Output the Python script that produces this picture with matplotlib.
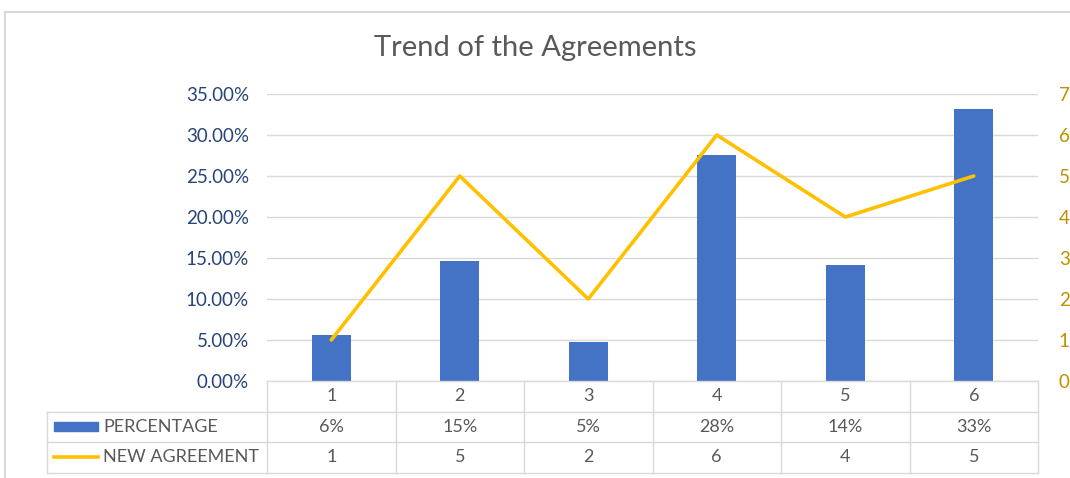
import numpy as np
import matplotlib
matplotlib.use("Agg")
import matplotlib.pyplot as plt
from matplotlib.ticker import PercentFormatter
from matplotlib.lines import Line2D
from matplotlib.patches import Rectangle

plt.rcParams['font.family'] = ['Lato', 'DejaVu Sans']

categories = ["1", "2", "3", "4", "5", "6"]
percentage = [0.056, 0.146, 0.048, 0.276, 0.141, 0.332]
percentage_labels = ["6%", "15%", "5%", "28%", "14%", "33%"]
new_agreement = [1, 5, 2, 6, 4, 5]

blue = "#4472C4"
gold = "#FFC000"
grid = "#D9D9D9"
txt = "#595959"
fs = 13

fig = plt.figure(figsize=(10.7, 4.78), dpi=100)
ax = fig.add_axes([267/1070, 1 - 381/478, 771/1070, 287/478])
ax2 = ax.twinx()

x = np.arange(len(categories))
ax.bar(x, percentage, width=0.3, color=blue, zorder=2)
ax2.plot(x, new_agreement, color=gold, lw=2.6, solid_capstyle='round', zorder=3)

ax.set_xlim(-0.5, len(categories) - 0.5)
ax.set_ylim(0, 0.35)
ax.set_yticks(np.arange(0, 0.351, 0.05))
ax.yaxis.set_major_formatter(PercentFormatter(1.0, decimals=2))
ax2.set_ylim(0, 7)
ax2.set_yticks(range(0, 8))

ax.grid(axis='y', color=grid, lw=1, zorder=0)
ax.set_axisbelow(True)
ax.set_xticks([])
for a in (ax, ax2):
    for s in a.spines.values():
        s.set_visible(False)
ax.tick_params(axis='y', length=0, pad=13, labelsize=13.5, labelcolor="#264478")
ax2.tick_params(axis='y', length=0, pad=15, labelsize=13.5, labelcolor="#BF9000")

fig.text(0.5, 1 - 48/478, "Trend of the Agreements", ha='center', va='center',
         fontsize=21, color=txt)

# data table under the axis
h = 30.5 / 287
left = (47 - 267) / 771
tr = ax.get_xaxis_transform()
ta = ax.transAxes

def hline(x0, x1, y):
    ax.add_line(Line2D([x0, x1], [y, y], transform=ta, color=grid, lw=1, clip_on=False))

def vline(x0, y0, y1):
    ax.add_line(Line2D([x0, x0], [y0, y1], transform=ta, color=grid, lw=1, clip_on=False))

hline(0, 1, 0)
hline(left, 1, -h)
hline(left, 1, -2 * h)
hline(left, 1, -3 * h)
vline(left, -h, -3 * h)
for i in range(len(categories) + 1):
    vline(i / len(categories), 0, -3 * h)

for i, c in enumerate(categories):
    ax.text(i, -0.5 * h, c, transform=tr, ha='center', va='center', fontsize=fs, color=txt)
    ax.text(i, -1.5 * h, percentage_labels[i], transform=tr, ha='center', va='center',
            fontsize=fs, color=txt)
    ax.text(i, -2.5 * h, str(new_agreement[i]), transform=tr, ha='center', va='center',
            fontsize=fs, color=txt)

ax.add_patch(Rectangle((left + 7/771, -1.5 * h - 4.5/287), 44/771, 9/287, transform=ta,
                       color=blue, clip_on=False))
ax.add_line(Line2D([left + 7/771, left + 51/771], [-2.5 * h, -2.5 * h], transform=ta,
                   color=gold, lw=2.6, clip_on=False))
ax.text(left + 56/771, -1.5 * h, "PERCENTAGE", transform=ta, ha='left', va='center',
        fontsize=fs, color=txt)
ax.text(left + 56/771, -2.5 * h, "NEW AGREEMENT", transform=ta, ha='left', va='center',
        fontsize=fs, color=txt)

# outer chart frame
fig.add_artist(Line2D([5/1070, 5/1070], [0, 1 - 12/478], transform=fig.transFigure,
                      color=grid, lw=1.5))
fig.add_artist(Line2D([5/1070, 1], [1 - 12/478, 1 - 12/478], transform=fig.transFigure,
                      color=grid, lw=1.5))

fig.savefig("out.png", dpi=100)
